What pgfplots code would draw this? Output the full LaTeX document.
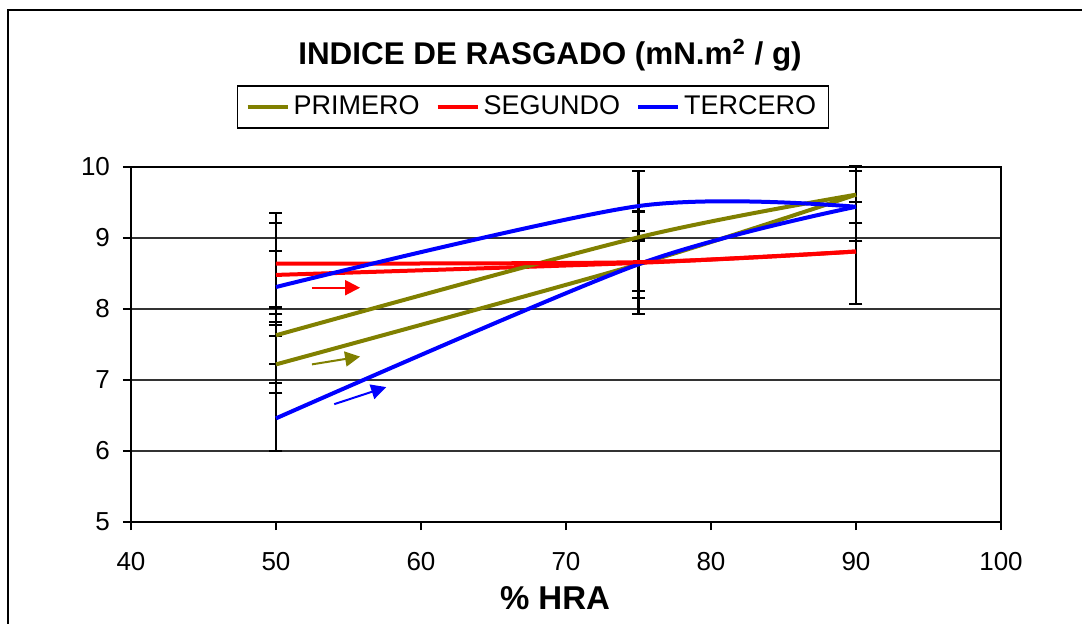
\documentclass[border=0pt]{standalone}
\usepackage{fontspec}
\setmainfont{Liberation Sans}
\usepackage{pgfplots}
\pgfplotsset{compat=1.18}
\usetikzlibrary{arrows.meta}
\definecolor{cOlive}{HTML}{808000}
\definecolor{cRed}{HTML}{FF0000}
\definecolor{cBlue}{HTML}{0000FF}
\begin{document}
\begin{tikzpicture}
\useasboundingbox (-65.5pt,-50.5pt) rectangle (475.5pt,261pt);
\draw[line width=1pt] (-61.5pt,-60pt) -- (-61.5pt,256pt) -- (490pt,256pt);
\begin{axis}[
  at={(0,0)}, anchor=south west,
  scale only axis, width=435pt, height=177.5pt,
  xmin=40, xmax=100, ymin=5, ymax=10,
  xtick={40,50,...,100}, ytick={5,6,...,10},
  xtick pos=left, ytick pos=left,
  tick align=outside, major tick length=4pt,
  tick style={black, line width=0.8pt},
  axis line style={line width=0.8pt},
  ymajorgrids, grid style={black!80, line width=0.6pt},
  /pgf/number format/assume math mode=true,
  tick label style={font=\fontsize{13pt}{15pt}\selectfont},
  xticklabel style={yshift=-7.5pt},
  yticklabel style={xshift=-3pt},
  clip=false,
  legend columns=3,
  legend style={at={(0.462,1.169)}, anchor=center, draw=black, line width=0.6pt,
    font=\fontsize{13.5pt}{15pt}\selectfont, inner xsep=4pt, inner ysep=3pt,
    /tikz/every even column/.append style={column sep=6pt}},
  legend image code/.code={\draw[#1, line width=2pt] (0pt,0pt) -- (20pt,0pt);},
]
% error bars
\addplot[draw=none, mark=none, forget plot,
  error bars/.cd, y dir=both, y explicit,
  error bar style={draw=black, line width=1.2pt},
  error mark options={draw=black, rotate=90, mark size=3.25pt, line width=1.1pt}]
  coordinates {
  (50,6.48) +- (0,0.48)
  (50,7.22) +- (0,0.40)
  (50,7.62) +- (0,0.40)
  (50,8.32) +- (0,0.50)
  (50,8.49) +- (0,0.72)
  (50,8.64) +- (0,0.71)
  (75,8.65) +- (0,0.72)
  (75,8.655) +- (0,0.73)
  (75,8.62) +- (0,0.37)
  (75,8.63) +- (0,0.47)
  (75,9.45) +- (0,0.49)
  (90,9.45) +- (0,0.49)
  (90,8.79) +- (0,0.72)
  (90,9.61) +- (0,0.40)
  };
% curves
\addplot[cOlive, line width=2pt, smooth, mark=none] coordinates {(50,7.22) (75,8.63) (90,9.61)};
\addlegendentry{PRIMERO}
\addplot[cRed, line width=2pt, smooth, mark=none] coordinates {(50,8.48) (75,8.65) (90,8.81)};
\addlegendentry{SEGUNDO}
\addplot[cBlue, line width=2pt, smooth, mark=none] coordinates {(50,6.46) (75,8.63) (90,9.44)};
\addlegendentry{TERCERO}
\addplot[cOlive, line width=2pt, smooth, mark=none, forget plot] coordinates {(90,9.61) (75,9.01) (50,7.63)};
\addplot[cRed, line width=2pt, smooth, mark=none, forget plot] coordinates {(90,8.81) (75,8.66) (50,8.64)};
\addplot[cBlue, line width=2pt, smooth, mark=none, forget plot] coordinates {(90,9.44) (75,9.45) (50,8.31)};
% arrows
\draw[cRed, line width=1pt, -{Triangle[length=7.5pt,width=7.5pt]}] (axis cs:52.48,8.30) -- (axis cs:55.8,8.30);
\draw[cOlive, line width=1pt, -{Triangle[length=7.5pt,width=7.5pt]}] (axis cs:52.48,7.22) -- (axis cs:55.8,7.33);
\draw[cBlue, line width=1pt, -{Triangle[length=7.5pt,width=7.5pt]}] (axis cs:54.02,6.66) -- (axis cs:57.6,6.90);
\end{axis}
\node[font=\bfseries\fontsize{15.7pt}{18pt}\selectfont] at (209.5pt,233.5pt) {INDICE DE RASGADO (mN.m\textsuperscript{2} / g)};
\node[font=\bfseries\fontsize{16.5pt}{18pt}\selectfont] at (212pt,-38pt) {\% HRA};
\end{tikzpicture}
\end{document}
